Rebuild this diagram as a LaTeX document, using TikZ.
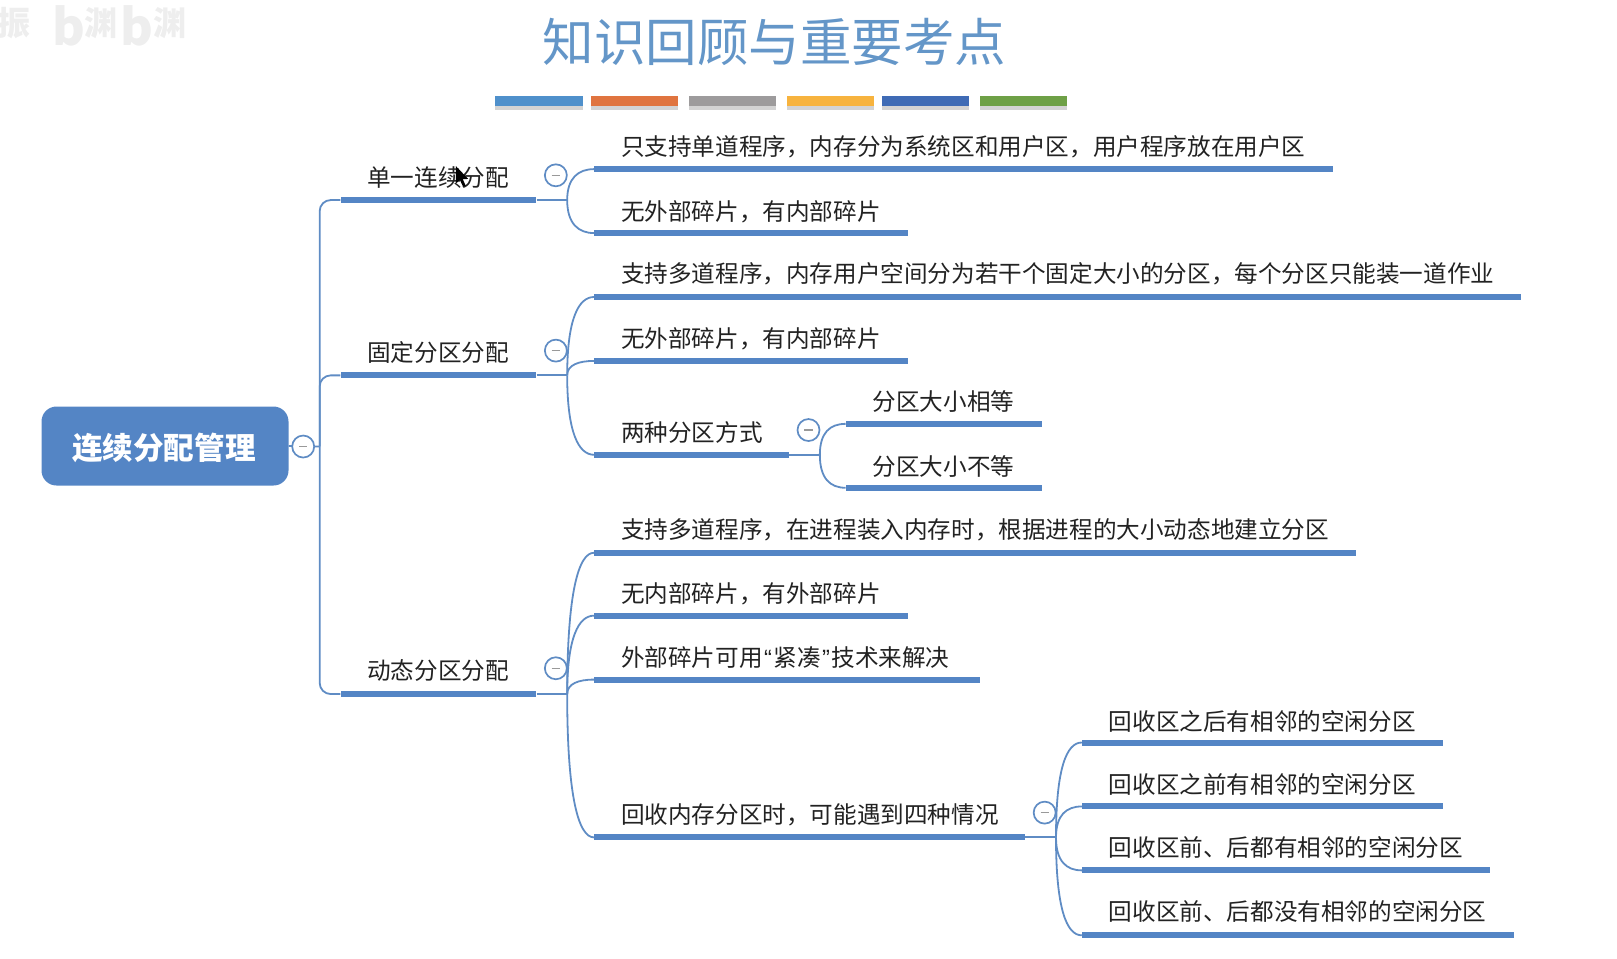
\documentclass[tikz,border=0pt]{standalone}
\usepackage{fontspec}
\setmainfont{Noto Sans CJK SC}
\newfontfamily\quotefont{Liberation Sans}
\usetikzlibrary{shadows,calc}
\definecolor{mainblue}{HTML}{5485C5}
\definecolor{linkblue}{HTML}{5F8CC4}
\definecolor{titleblue}{HTML}{6496C8}
\definecolor{txt}{HTML}{222222}
\definecolor{wm}{HTML}{EEEEEE}
\tikzset{
  rootbox/.style={draw=none,fill=mainblue,rounded corners=15pt,minimum width=247pt,minimum height=79pt,inner sep=0pt,text=white,font=\fontsize{30.6pt}{32pt}\selectfont\bfseries},
  barline/.style={fill=mainblue,draw=none,inner sep=0pt,minimum height=6pt,anchor=west},
  label/.style={anchor=west,inner sep=0pt,text=txt,font=\fontsize{23.6pt}{25pt}\selectfont,text height=20pt,text depth=3.5pt},
  togglec/.style={circle,draw=linkblue,line width=1.7pt,fill=white,minimum size=22pt,inner sep=0pt},
  minusm/.style={draw=gray!80,line width=1.5pt},
  link/.style={draw=linkblue,line width=1.8pt},
  wmb/.style={text=wm,inner sep=0pt,font=\fontsize{50pt}{50pt}\selectfont\bfseries},
  wmc/.style={text=wm,inner sep=0pt,font=\fontsize{33pt}{33pt}\selectfont\bfseries},
  colorbar/.style={draw=none,inner sep=0pt,minimum width=87.5pt,minimum height=10.5pt,drop shadow={shadow xshift=0pt,shadow yshift=-3.5pt,opacity=0.35}}
}
\newcommand{\barn}[4]{\node[barline,minimum width={(#3-#2)*1.03125pt}] (#1) at (#2,#4) {};}
\newcommand{\togglen}[3]{\node[togglec] (#1) at (#2,#3) {}; \draw[minusm] ($(#1)+(-4,0)$) -- ($(#1)+(4,0)$);}
% curved link from junction #1 to the left end of bar #2
\newcommand{\curvelink}[2]{\draw[link] (#1) .. controls ($(#1)!0.72!(#1|-#2.west)$) and ($(#2.west)+(-15,0)$) .. (#2.west);}
\begin{document}
\begin{tikzpicture}[x=1.03125pt,y=-1.03125pt]
\useasboundingbox (0,0) rectangle (1568,929);
% faint watermark
\node[wmb] (wmb1) at (67,25) {b};
\node[wmb] (wmb2) at (133,25) {b};
\node[wmc] (wmc1) at (98,22) {渊};
\node[wmc] (wmc2) at (165,22) {渊};
\node[wmc] (wmc0) at (14,22) {振};
% title
\node[text=titleblue,font=\fontsize{51.5pt}{54pt}\selectfont] (title) at (751,41) {知识回顾与重要考点};
\node[colorbar,fill={rgb,255:red,79;green,144;blue,203}] (c1) at (522.5,98) {};
\node[colorbar,fill={rgb,255:red,224;green,116;blue,63}] (c2) at (615.5,98) {};
\node[colorbar,fill={rgb,255:red,157;green,155;blue,156}] (c3) at (710.5,98) {};
\node[colorbar,fill={rgb,255:red,247;green,179;blue,62}] (c4) at (805.5,98) {};
\node[colorbar,fill={rgb,255:red,63;green,107;blue,181}] (c5) at (897.5,98) {};
\node[colorbar,fill={rgb,255:red,110;green,160;blue,70}] (c6) at (992.5,98) {};
% root
\node[rootbox] (root) at (160,432.5) {};
\node[text=white,inner sep=0pt,font=\fontsize{30.6pt}{32pt}\selectfont\bfseries] (troot) at (159,434.5) {连续分配管理};
\coordinate (trunk) at (310,433);
% level 1
\barn{a1}{330}{520}{194}
\barn{a2}{330}{520}{364}
\barn{a3}{330}{520}{673}
\node[label] (ta1) at (356,173) {单一连续分配};
\node[label] (ta2) at (356,343) {固定分区分配};
\node[label] (ta3) at (356,651) {动态分区分配};
\coordinate (j1) at (550,194);
\coordinate (j2) at (550,364);
\coordinate (j3) at (550,673);
% children of a1
\barn{b1}{576}{1292}{164}
\barn{b2}{576}{880}{226}
\node[label] (tb1) at (602,143) {只支持单道程序，内存分为系统区和用户区，用户程序放在用户区};
\node[label] (tb2) at (602,206) {无外部碎片，有内部碎片};
% children of a2
\barn{c1b}{576}{1475}{288}
\barn{c2b}{576}{880}{350}
\barn{c3b}{576}{765}{441}
\node[label] (tc1) at (602,266) {支持多道程序，内存用户空间分为若干个固定大小的分区，每个分区只能装一道作业};
\node[label] (tc2) at (602,329) {无外部碎片，有内部碎片};
\node[label] (tc3) at (602,420) {两种分区方式};
\coordinate (j4) at (795,441);
\barn{e1}{820}{1010}{411}
\barn{e2}{820}{1010}{473}
\node[label] (te1) at (846,390) {分区大小相等};
\node[label] (te2) at (846,453) {分区大小不等};
% children of a3
\barn{d1}{576}{1315}{536}
\barn{d2}{576}{880}{597}
\barn{d3}{576}{950}{659}
\barn{d4}{576}{994}{812}
\node[label] (td1) at (602,514) {支持多道程序，在进程装入内存时，根据进程的大小动态地建立分区};
\node[label] (td2) at (602,576) {无内部碎片，有外部碎片};
\node[label] (td3) at (602,638) {外部碎片可用\hspace{1.5pt}{\quotefont “}\hspace{1.5pt}紧凑\hspace{1.5pt}{\quotefont ”}\hspace{1.5pt}技术来解决};
\node[label] (td4) at (602,791) {回收内存分区时，可能遇到四种情况};
\coordinate (j5) at (1024,812);
\barn{f1}{1049}{1399}{720}
\barn{f2}{1049}{1399}{782}
\barn{f3}{1049}{1445}{844}
\barn{f4}{1049}{1468}{907}
\node[label] (tf1) at (1075,700) {回收区之后有相邻的空闲分区};
\node[label] (tf2) at (1075,761) {回收区之前有相邻的空闲分区};
\node[label] (tf3) at (1075,823) {回收区前、后都有相邻的空闲分区};
\node[label] (tf4) at (1075,885) {回收区前、后都没有相邻的空闲分区};
% connectors
\draw[link] (root.east) -- (trunk);
\draw[link,rounded corners=11pt] (trunk) |- (a1.west);
\draw[link,rounded corners=11pt] (trunk) |- (a3.west);
\draw[link,rounded corners=11pt] (trunk) |- (a2.west);
\foreach \p/\j in {a1/j1,a2/j2,a3/j3,c3b/j4,d4/j5}{\draw[link] (\p.east) -- (\j);}
\curvelink{j1}{b1}
\curvelink{j1}{b2}
\curvelink{j2}{c1b}
\curvelink{j2}{c2b}
\curvelink{j2}{c3b}
\curvelink{j4}{e1}
\curvelink{j4}{e2}
\curvelink{j3}{d1}
\curvelink{j3}{d2}
\curvelink{j3}{d3}
\curvelink{j3}{d4}
\curvelink{j5}{f1}
\curvelink{j5}{f2}
\curvelink{j5}{f3}
\curvelink{j5}{f4}
% toggles
\togglen{t0}{294}{433}
\togglen{t1}{539}{170}
\togglen{t2}{539}{340}
\togglen{t3}{539}{648}
\togglen{t4}{784}{417}
\togglen{t5}{1013}{788}
% mouse pointer
\fill[black] (442,161) -- (442,178) -- (446,174.5) -- (449,181) -- (451.5,180) -- (448.8,173.8) -- (454,173.5) -- cycle;
\end{tikzpicture}
\end{document}
